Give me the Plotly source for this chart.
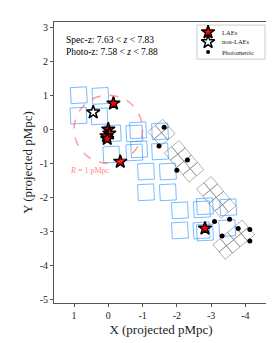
import numpy as np
import plotly.graph_objects as go

# ---- data (projected pMpc) ----
lae_x = [-0.15, 0.00, -0.03, 0.05, 0.03, -0.35, -2.82]
lae_y = [0.76, 0.00, -0.12, -0.20, -0.28, -0.95, -2.91]
nonlae_x = [0.44]
nonlae_y = [0.50]
phot_x = [-1.63, -1.48, -2.31, -2.00, -3.10, -3.54, -3.32, -3.79, -4.13, -4.13]
phot_y = [0.06, -0.49, -0.90, -1.20, -2.71, -2.64, -3.13, -2.91, -2.94, -3.28]

blue_cx = [0.86, 0.23, 0.87, 0.26, -0.13, -0.09, -0.76, -0.87, -0.76, -0.90, -1.51, -1.51,
           -1.10, -1.74, -1.10, -1.74, -2.09, -2.09, -2.73, -2.82, -2.72, -2.82, -3.50, -3.47]
blue_cy = [1.00, 0.98, 0.40, 0.38, -0.12, -0.74, -0.12, -0.03, -0.68, -0.59, -0.06, -0.65,
           -1.24, -1.24, -1.85, -1.85, -2.38, -2.97, -2.35, -2.26, -2.97, -3.03, -2.29, -2.90]
blue_side = 0.47
blue_angle = 3.0

gray_cx = [-1.555, -2.21, -3.15, -3.66]
gray_cy = [-0.10, -0.94, -2.00, -3.24]
gray_nu = [2, 2, 2, 4]
gray_nv = [2, 4, 4, 2]
gray_tile = 0.28
gray_angle = 40.0

circle_r = 1.0

legend_labels = ["LAEs", "non-LAEs", "Photometric"]

xtick_vals = [1, 0, -1, -2, -3, -4]
xtick_text = ["1", "0", "-1", "-2", "-3", "-4"]
ytick_vals = [3, 2, 1, 0, -1, -2, -3, -4, -5]
ytick_text = ["3", "2", "1", "0", "-1", "-2", "-3", "-4", "-5"]


def dirs(theta_deg):
    t = np.radians(theta_deg)
    u = np.array([-np.cos(t), np.sin(t)])
    v = np.array([-np.sin(t), -np.cos(t)])
    return u, v


def square(c, s, u, v):
    pts = [c + (-s / 2) * u + (-s / 2) * v, c + (s / 2) * u + (-s / 2) * v,
           c + (s / 2) * u + (s / 2) * v, c + (-s / 2) * u + (s / 2) * v,
           c + (-s / 2) * u + (-s / 2) * v]
    return [p[0] for p in pts], [p[1] for p in pts]


bx, by = [], []
u, v = dirs(blue_angle)
for cx, cy in zip(blue_cx, blue_cy):
    xs, ys = square(np.array([cx, cy]), blue_side, u, v)
    bx += xs + [None]
    by += ys + [None]

gx, gy = [], []
u, v = dirs(gray_angle)
for cx, cy, nu, nv in zip(gray_cx, gray_cy, gray_nu, gray_nv):
    c0 = np.array([cx, cy])
    for i in range(nu):
        for j in range(nv):
            c = c0 + (i - (nu - 1) / 2) * gray_tile * u + (j - (nv - 1) / 2) * gray_tile * v
            xs, ys = square(c, gray_tile, u, v)
            gx += xs + [None]
            gy += ys + [None]

fig = go.Figure()
fig.add_trace(go.Scatter(x=gx, y=gy, mode="lines", line=dict(color="rgba(128,128,128,0.6)", width=1),
                         showlegend=False, hoverinfo="skip"))
fig.add_trace(go.Scatter(x=bx, y=by, mode="lines", line=dict(color="rgba(30,144,255,0.6)", width=1),
                         showlegend=False, hoverinfo="skip"))

fig.add_shape(type="circle", xref="x", yref="y", x0=-circle_r, x1=circle_r, y0=-circle_r, y1=circle_r,
              line=dict(color="rgba(255,90,90,0.6)", width=1.5, dash="dash"))

fig.add_trace(go.Scatter(x=phot_x, y=phot_y, mode="markers", showlegend=False,
                         marker=dict(symbol="circle", size=5, color="black")))
fig.add_trace(go.Scatter(x=nonlae_x, y=nonlae_y, mode="markers", showlegend=False,
                         marker=dict(symbol="star", size=10, color="white", line=dict(color="black", width=1.5))))
fig.add_trace(go.Scatter(x=lae_x, y=lae_y, mode="markers", showlegend=False,
                         marker=dict(symbol="star", size=10, color="red", line=dict(color="black", width=1.5))))

# ---- manual legend on an overlay axis (0..1 over the plot area) ----
leg_sym_x = 0.72
leg_txt_x = 0.775
leg_y = [0.964, 0.929, 0.893]
fig.add_shape(type="rect", xref="x2", yref="y2", x0=0.668, x1=0.986, y0=0.868, y1=0.989,
              line=dict(color="#ccc", width=1), fillcolor="white", layer="below")
fig.add_trace(go.Scatter(x=[leg_sym_x], y=[leg_y[0]], xaxis="x2", yaxis="y2", mode="markers",
                         showlegend=False, hoverinfo="skip",
                         marker=dict(symbol="star", size=10, color="red", line=dict(color="black", width=1.5))))
fig.add_trace(go.Scatter(x=[leg_sym_x], y=[leg_y[1]], xaxis="x2", yaxis="y2", mode="markers",
                         showlegend=False, hoverinfo="skip",
                         marker=dict(symbol="star", size=10, color="white", line=dict(color="black", width=1.5))))
fig.add_trace(go.Scatter(x=[leg_sym_x], y=[leg_y[2]], xaxis="x2", yaxis="y2", mode="markers",
                         showlegend=False, hoverinfo="skip",
                         marker=dict(symbol="circle", size=4, color="black")))
for lab, yy in zip(legend_labels, leg_y):
    fig.add_annotation(x=leg_txt_x, y=yy, xref="x2", yref="y2", text=lab, showarrow=False,
                       xanchor="left", yanchor="middle",
                       font=dict(size=6.5, color="#222", family="Liberation Serif"))

fig.add_annotation(x=0.52, y=-1.2, xref="x", yref="y", text="<i>R</i> = 1 pMpc", showarrow=False,
                   font=dict(size=8, color="rgba(255,90,90,0.75)", family="Liberation Serif"))
fig.add_annotation(x=0.045, y=0.96, xref="paper", yref="paper", xanchor="left", yanchor="top",
                   align="left", showarrow=False,
                   text="Spec-z: 7.63 &lt; <i>z</i> &lt; 7.83<br>Photo-z: 7.58 &lt; <i>z</i> &lt; 7.88",
                   font=dict(size=9.5, color="black", family="Liberation Serif"))

axis_common = dict(showgrid=False, zeroline=False, showline=True, mirror=True, linecolor="#555",
                   linewidth=1, ticks="outside", ticklen=3, tickcolor="#555",
                   tickfont=dict(size=10, family="Liberation Serif", color="#222"))
fig.update_xaxes(range=[1.584, -4.66], tickvals=xtick_vals, ticktext=xtick_text,
                 title=dict(text="X (projected pMpc)", font=dict(size=13, family="Liberation Serif", color="#222"),
                            standoff=4), **axis_common)
fig.update_yaxes(range=[-5.1, 3.15], tickvals=ytick_vals, ticktext=ytick_text,
                 title=dict(text="Y (projected pMpc)", font=dict(size=13, family="Liberation Serif", color="#222"),
                            standoff=4), **axis_common)

fig.update_layout(width=274, height=343, margin=dict(l=46, r=14, t=14, b=48),
                  plot_bgcolor="white", paper_bgcolor="white",
                  font=dict(family="Liberation Serif"), showlegend=False,
                  xaxis2=dict(overlaying="x", range=[0, 1], visible=False, fixedrange=True),
                  yaxis2=dict(overlaying="y", range=[0, 1], visible=False, fixedrange=True))
fig.write_html("out.html")
